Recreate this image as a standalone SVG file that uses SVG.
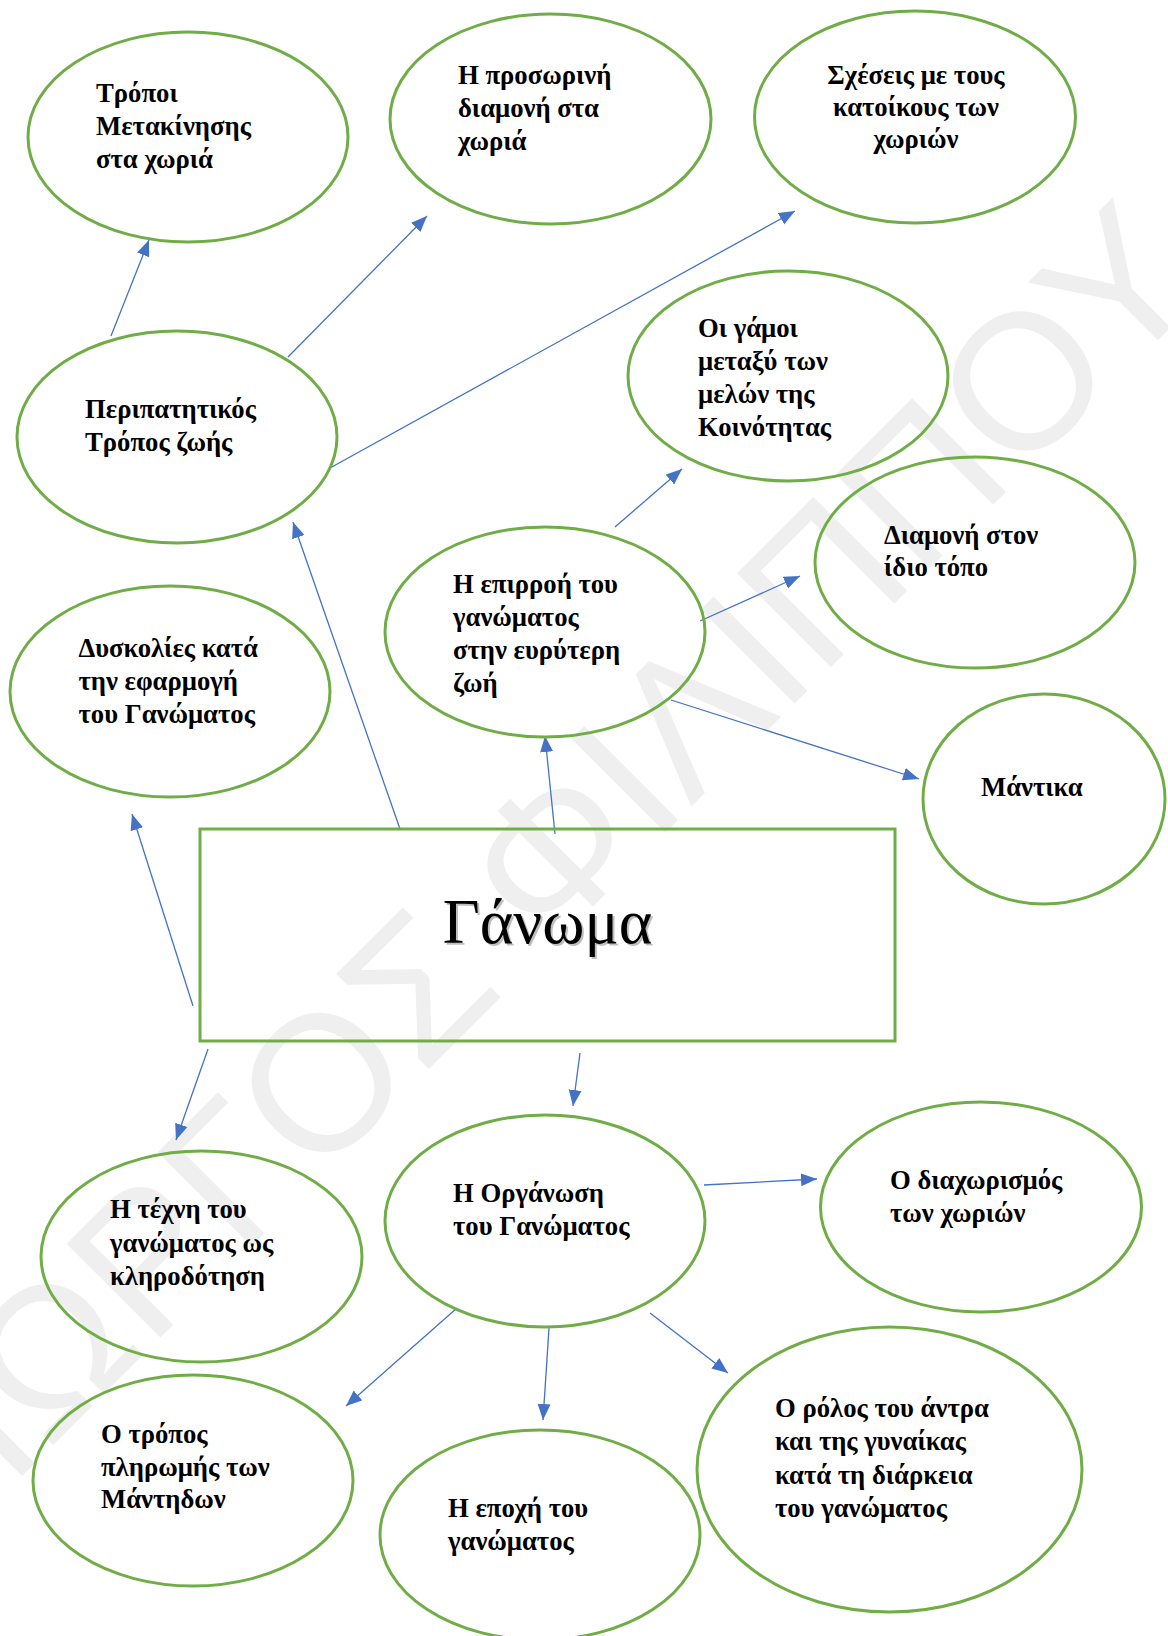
<svg xmlns="http://www.w3.org/2000/svg" width="1168" height="1636" viewBox="0 0 1168 1636">
<style>
.node ellipse, .node rect { fill: none; stroke: #70AD47; stroke-width: 3; }
.lbl { font-family: "Liberation Serif", "Times New Roman", serif; font-weight: bold; font-size: 26.7px; fill: #000; }
.conn line { stroke: #4472C4; stroke-width: 1.3; marker-end: url(#arr); }
.wm { font-family: "Liberation Sans", Arial, sans-serif; font-size: 193px; fill: #efefef; }
</style>
<defs>
<marker id="arr" markerUnits="userSpaceOnUse" markerWidth="16" markerHeight="14" refX="16" refY="7" orient="auto">
<path d="M0,0.5 L16,7 L0,13.5 z" fill="#4472C4"/>
</marker>
</defs>
<rect width="1168" height="1636" fill="#fff"/>
<text class="wm" x="572" y="926" text-anchor="middle" transform="rotate(-45 572 926)">ΓΙΩΡΓΟΣ ΦΙΛΙΠΠΟΥ</text>

<g id="connectors" class="conn">
<line x1="111" y1="336" x2="149" y2="240"/>
<line x1="288" y1="357" x2="427" y2="216"/>
<line x1="330" y1="468" x2="795" y2="211"/>
<line x1="400" y1="829" x2="293" y2="522"/>
<line x1="615" y1="527" x2="682" y2="469"/>
<line x1="700" y1="621" x2="800" y2="576"/>
<line x1="671" y1="700" x2="919" y2="779"/>
<line x1="555" y1="834" x2="545" y2="736"/>
<line x1="193" y1="1006" x2="132" y2="814"/>
<line x1="208" y1="1049" x2="176" y2="1140"/>
<line x1="580" y1="1053" x2="573" y2="1106"/>
<line x1="704" y1="1185" x2="817" y2="1179"/>
<line x1="650" y1="1313" x2="728" y2="1373"/>
<line x1="457" y1="1308" x2="346" y2="1406"/>
<line x1="549" y1="1328" x2="543" y2="1420"/>
</g>

<g id="n-tropoi" class="node">
<ellipse cx="188" cy="137" rx="160" ry="105"/>
<text class="lbl"><tspan x="96" y="102">Τρόποι</tspan><tspan x="96" y="135">Μετακίνησης</tspan><tspan x="96" y="168">στα χωριά</tspan></text>
</g>
<g id="n-prosorini" class="node">
<ellipse cx="550.5" cy="119" rx="160.5" ry="105"/>
<text class="lbl"><tspan x="458" y="84">Η προσωρινή</tspan><tspan x="458" y="117">διαμονή στα</tspan><tspan x="458" y="150">χωριά</tspan></text>
</g>
<g id="n-scheseis" class="node">
<ellipse cx="915" cy="117" rx="160.5" ry="106"/>
<text class="lbl" text-anchor="middle"><tspan x="916" y="84">Σχέσεις με τους</tspan><tspan x="916" y="116">κατοίκους των</tspan><tspan x="916" y="148">χωριών</tspan></text>
</g>
<g id="n-peripatitikos" class="node">
<ellipse cx="177" cy="437" rx="160" ry="106"/>
<text class="lbl"><tspan x="85" y="418">Περιπατητικός</tspan><tspan x="85" y="451">Τρόπος ζωής</tspan></text>
</g>
<g id="n-gamoi" class="node">
<ellipse cx="788" cy="376" rx="160" ry="105"/>
<text class="lbl"><tspan x="698" y="337">Οι γάμοι</tspan><tspan x="698" y="370">μεταξύ των</tspan><tspan x="698" y="403">μελών της</tspan><tspan x="698" y="436">Κοινότητας</tspan></text>
</g>
<g id="n-diamoni" class="node">
<ellipse cx="975" cy="562.5" rx="160" ry="105.5"/>
<text class="lbl"><tspan x="884" y="544">Διαμονή στον</tspan><tspan x="884" y="576">ίδιο τόπο</tspan></text>
</g>
<g id="n-epirroi" class="node">
<ellipse cx="545" cy="632" rx="160" ry="105"/>
<text class="lbl"><tspan x="453" y="593">Η επιρροή του</tspan><tspan x="453" y="626">γανώματος</tspan><tspan x="453" y="659">στην ευρύτερη</tspan><tspan x="453" y="692">ζωή</tspan></text>
</g>
<g id="n-mantika" class="node">
<ellipse cx="1044" cy="799" rx="121" ry="105"/>
<text class="lbl" x="981" y="796">Μάντικα</text>
</g>
<g id="n-dyskolies" class="node">
<ellipse cx="170" cy="691.5" rx="160" ry="105.5"/>
<text class="lbl"><tspan x="78.5" y="657">Δυσκολίες κατά</tspan><tspan x="78.5" y="690">την εφαρμογή</tspan><tspan x="78.5" y="723">του Γανώματος</tspan></text>
</g>
<g id="n-ganoma" class="node">
<rect x="200" y="829" width="695" height="212"/>
<text x="549.5" y="945" text-anchor="middle" font-family="Liberation Serif, 'Times New Roman', serif" font-size="64" fill="#000" fill-opacity="0.25">Γάνωμα</text>
<text x="547.5" y="943" text-anchor="middle" font-family="Liberation Serif, 'Times New Roman', serif" font-size="64" fill="#000">Γάνωμα</text>
</g>
<g id="n-techni" class="node">
<ellipse cx="201.5" cy="1256.5" rx="160.5" ry="105.5"/>
<text class="lbl"><tspan x="110" y="1218">Η τέχνη του</tspan><tspan x="110" y="1252">γανώματος ως</tspan><tspan x="110" y="1285">κληροδότηση</tspan></text>
</g>
<g id="n-organosi" class="node">
<ellipse cx="545" cy="1221" rx="160" ry="106"/>
<text class="lbl"><tspan x="453" y="1202">Η Οργάνωση</tspan><tspan x="453" y="1235">του Γανώματος</tspan></text>
</g>
<g id="n-diachorismos" class="node">
<ellipse cx="981" cy="1207" rx="160.5" ry="105"/>
<text class="lbl"><tspan x="890" y="1189">Ο διαχωρισμός</tspan><tspan x="890" y="1222">των χωριών</tspan></text>
</g>
<g id="n-tropos-pliromis" class="node">
<ellipse cx="193" cy="1480.5" rx="160" ry="105.5"/>
<text class="lbl"><tspan x="101" y="1443">Ο τρόπος</tspan><tspan x="101" y="1476">πληρωμής των</tspan><tspan x="101" y="1508">Μάντηδων</tspan></text>
</g>
<g id="n-epochi" class="node">
<ellipse cx="540" cy="1535" rx="160" ry="105"/>
<text class="lbl"><tspan x="448" y="1517">Η εποχή του</tspan><tspan x="448" y="1550">γανώματος</tspan></text>
</g>
<g id="n-rolos" class="node">
<ellipse cx="889.5" cy="1469.5" rx="192.5" ry="142.5"/>
<text class="lbl"><tspan x="775" y="1417">Ο ρόλος του άντρα</tspan><tspan x="775" y="1450">και της γυναίκας</tspan><tspan x="775" y="1484">κατά τη διάρκεια</tspan><tspan x="775" y="1517">του γανώματος</tspan></text>
</g>
</svg>
